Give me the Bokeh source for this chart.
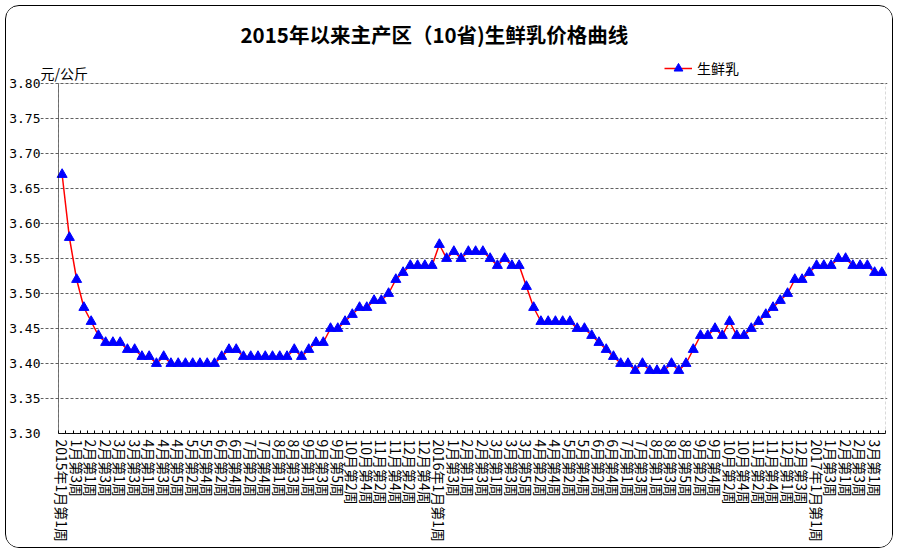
from bokeh.plotting import figure
from bokeh.models import FixedTicker, Legend, LegendItem, Label, Range1d, BoxAnnotation
from bokeh.embed import file_html
from bokeh.resources import INLINE

# ---------------- data ----------------
chart_title = "2015年以来主产区（10省)生鲜乳价格曲线"
unit_label = "元/公斤"
series_name = "生鲜乳"

years = ["2015", "2016", "2017"]
# number of reported weeks in each month (defines the x-axis week labels)
weeks_2015 = [4, 4, 4, 5, 4, 4, 5, 4, 5, 4, 4, 5]
weeks_2016 = [4, 4, 5, 4, 4, 5, 4, 5, 4, 4, 5, 4]
weeks_2017 = [4, 4, 2]

prices = [
    3.67, 3.58, 3.52, 3.48, 3.46, 3.44, 3.43, 3.43, 3.43, 3.42,
    3.42, 3.41, 3.41, 3.40, 3.41, 3.40, 3.40, 3.40, 3.40, 3.40,
    3.40, 3.40, 3.41, 3.42, 3.42, 3.41, 3.41, 3.41, 3.41, 3.41,
    3.41, 3.41, 3.42, 3.41, 3.42, 3.43, 3.43, 3.45, 3.45, 3.46,
    3.47, 3.48, 3.48, 3.49, 3.49, 3.50, 3.52, 3.53, 3.54, 3.54,
    3.54, 3.54, 3.57, 3.55, 3.56, 3.55, 3.56, 3.56, 3.56, 3.55,
    3.54, 3.55, 3.54, 3.54, 3.51, 3.48, 3.46, 3.46, 3.46, 3.46,
    3.46, 3.45, 3.45, 3.44, 3.43, 3.42, 3.41, 3.40, 3.40, 3.39,
    3.40, 3.39, 3.39, 3.39, 3.40, 3.39, 3.40, 3.42, 3.44, 3.44,
    3.45, 3.44, 3.46, 3.44, 3.44, 3.45, 3.46, 3.47, 3.48, 3.49,
    3.50, 3.52, 3.52, 3.53, 3.54, 3.54, 3.54, 3.55, 3.55, 3.54,
    3.54, 3.54, 3.53, 3.53,
]

y_min, y_max = 3.30, 3.80
y_ticks = [3.30, 3.35, 3.40, 3.45, 3.50, 3.55, 3.60, 3.65, 3.70, 3.75, 3.80]

# ---------------- week labels ----------------
week_labels = []
for year, weeks in zip(years, [weeks_2015, weeks_2016, weeks_2017]):
    for m, n in enumerate(weeks, 1):
        for w in range(1, n + 1):
            lab = f"{m}月第{w}周"
            if m == 1 and w == 1:
                lab = f"{year}年" + lab
            week_labels.append(lab)

xs = list(range(len(prices)))
n = len(xs)

CJK = "Noto Sans CJK SC"

# ---------------- geometry (pixels) ----------------
W, H = 888, 543
border_l, border_r, border_t, border_b = 34, 7, 46, 116
area_left_px = 18          # plot-area left edge, measured from frame left
area_right_px = 2          # plot-area right edge, measured from frame right
frame_w = W - border_l - border_r
frame_h = H - border_t - border_b
area_h = 350               # plot area height (3.30 .. 3.80)
px_per_x = (frame_w - area_left_px - area_right_px) / n
px_per_y = area_h / (y_max - y_min)
x_start = -0.5 - area_left_px / px_per_x
x_end = n - 0.5 + area_right_px / px_per_x
y_end = y_min + frame_h / px_per_y

p = figure(
    width=W, height=H,
    output_backend="svg", toolbar_location=None,
    x_range=Range1d(x_start, x_end), y_range=Range1d(y_min, y_end),
    min_border_left=border_l, min_border_right=border_r,
    min_border_top=border_t, min_border_bottom=border_b,
    background_fill_color="white", border_fill_color="white",
)
p.margin = (5, 5, 5, 5)
p.styles = {"border": "1px solid #000000", "border-radius": "14px", "overflow": "hidden"}
p.outline_line_color = None

# title
p.title.text = chart_title
p.title.text_font = CJK
p.title.text_font_size = "20.5px"
p.title.text_font_style = "bold"
p.title.text_color = "#000000"
p.title.align = "left"
p.title.offset = 200
p.title.standoff = 8

# horizontal grid lines (limited to the plot area by the x-axis bounds)
p.xgrid.visible = False
p.ygrid.ticker = FixedTicker(ticks=y_ticks)
p.ygrid.grid_line_color = "#606060"
p.ygrid.grid_line_dash = "3 2"
p.ygrid.grid_line_width = 1

# plot-area border: dotted box, solid value-axis line on the left
p.add_layout(BoxAnnotation(left=-0.5, right=n - 0.5, bottom=y_min, top=y_max,
                           fill_alpha=0, line_color="#808080", line_dash="3 2", line_width=1))
p.add_layout(BoxAnnotation(left=-0.5, right=-0.5, bottom=y_min, top=y_max,
                           fill_alpha=0, line_color="#000000", line_width=1))

# y axis labels
p.yaxis.ticker = FixedTicker(ticks=y_ticks)
p.yaxis.major_label_overrides = {t: f"{t:.2f}" for t in y_ticks}
p.yaxis.major_label_text_font = "DejaVu Sans Mono"
p.yaxis.major_label_text_font_size = "13px"
p.yaxis.major_label_text_color = "#000000"
p.yaxis.major_label_standoff = 0
p.yaxis.major_tick_out = 0
p.yaxis.major_tick_in = 0
p.yaxis.minor_tick_line_color = None
p.yaxis.axis_line_color = None
p.yaxis.major_tick_line_color = None

# x axis: every other week labelled, ticks at category boundaries
even_idx = xs[::2]
p.xaxis.bounds = (-0.5, n - 0.5)
p.xaxis.ticker = FixedTicker(ticks=even_idx, minor_ticks=[i - 0.5 for i in range(n + 1)])
p.xaxis.major_label_overrides = {i: week_labels[i] for i in even_idx}
p.xaxis.major_label_orientation = "vertical"
p.xaxis.major_label_text_font = CJK
p.xaxis.major_label_text_font_size = "14px"
p.xaxis.major_label_text_color = "#000000"
p.xaxis.major_label_standoff = 6
p.xaxis.major_tick_in = 0
p.xaxis.major_tick_out = 0
p.xaxis.minor_tick_in = 3
p.xaxis.minor_tick_out = 0
p.xaxis.minor_tick_line_color = "#000000"
p.xaxis.axis_line_color = "#000000"

# series
line = p.line(xs, prices, line_color="#FF0000", line_width=1.5)
pts = p.scatter(xs, prices, marker="triangle", size=10,
                fill_color="#0000FF", line_color="#0000FF")

# unit text above the value axis
p.add_layout(Label(x=x_start, y=y_max, text=unit_label, x_offset=0, y_offset=11,
                   text_font=CJK, text_font_size="14px", text_color="#000000",
                   text_baseline="middle", text_align="left"))

legend = Legend(
    items=[LegendItem(label=series_name, renderers=[line, pts])],
    location=(624, area_h + 4), orientation="horizontal",
    background_fill_alpha=0, border_line_color=None,
    padding=2, margin=0, glyph_width=28, glyph_height=22,
    label_standoff=5, label_text_font=CJK, label_text_font_size="14px",
    label_text_color="#000000",
)
p.add_layout(legend, "center")

open("out.html", "w").write(file_html(p, INLINE))
